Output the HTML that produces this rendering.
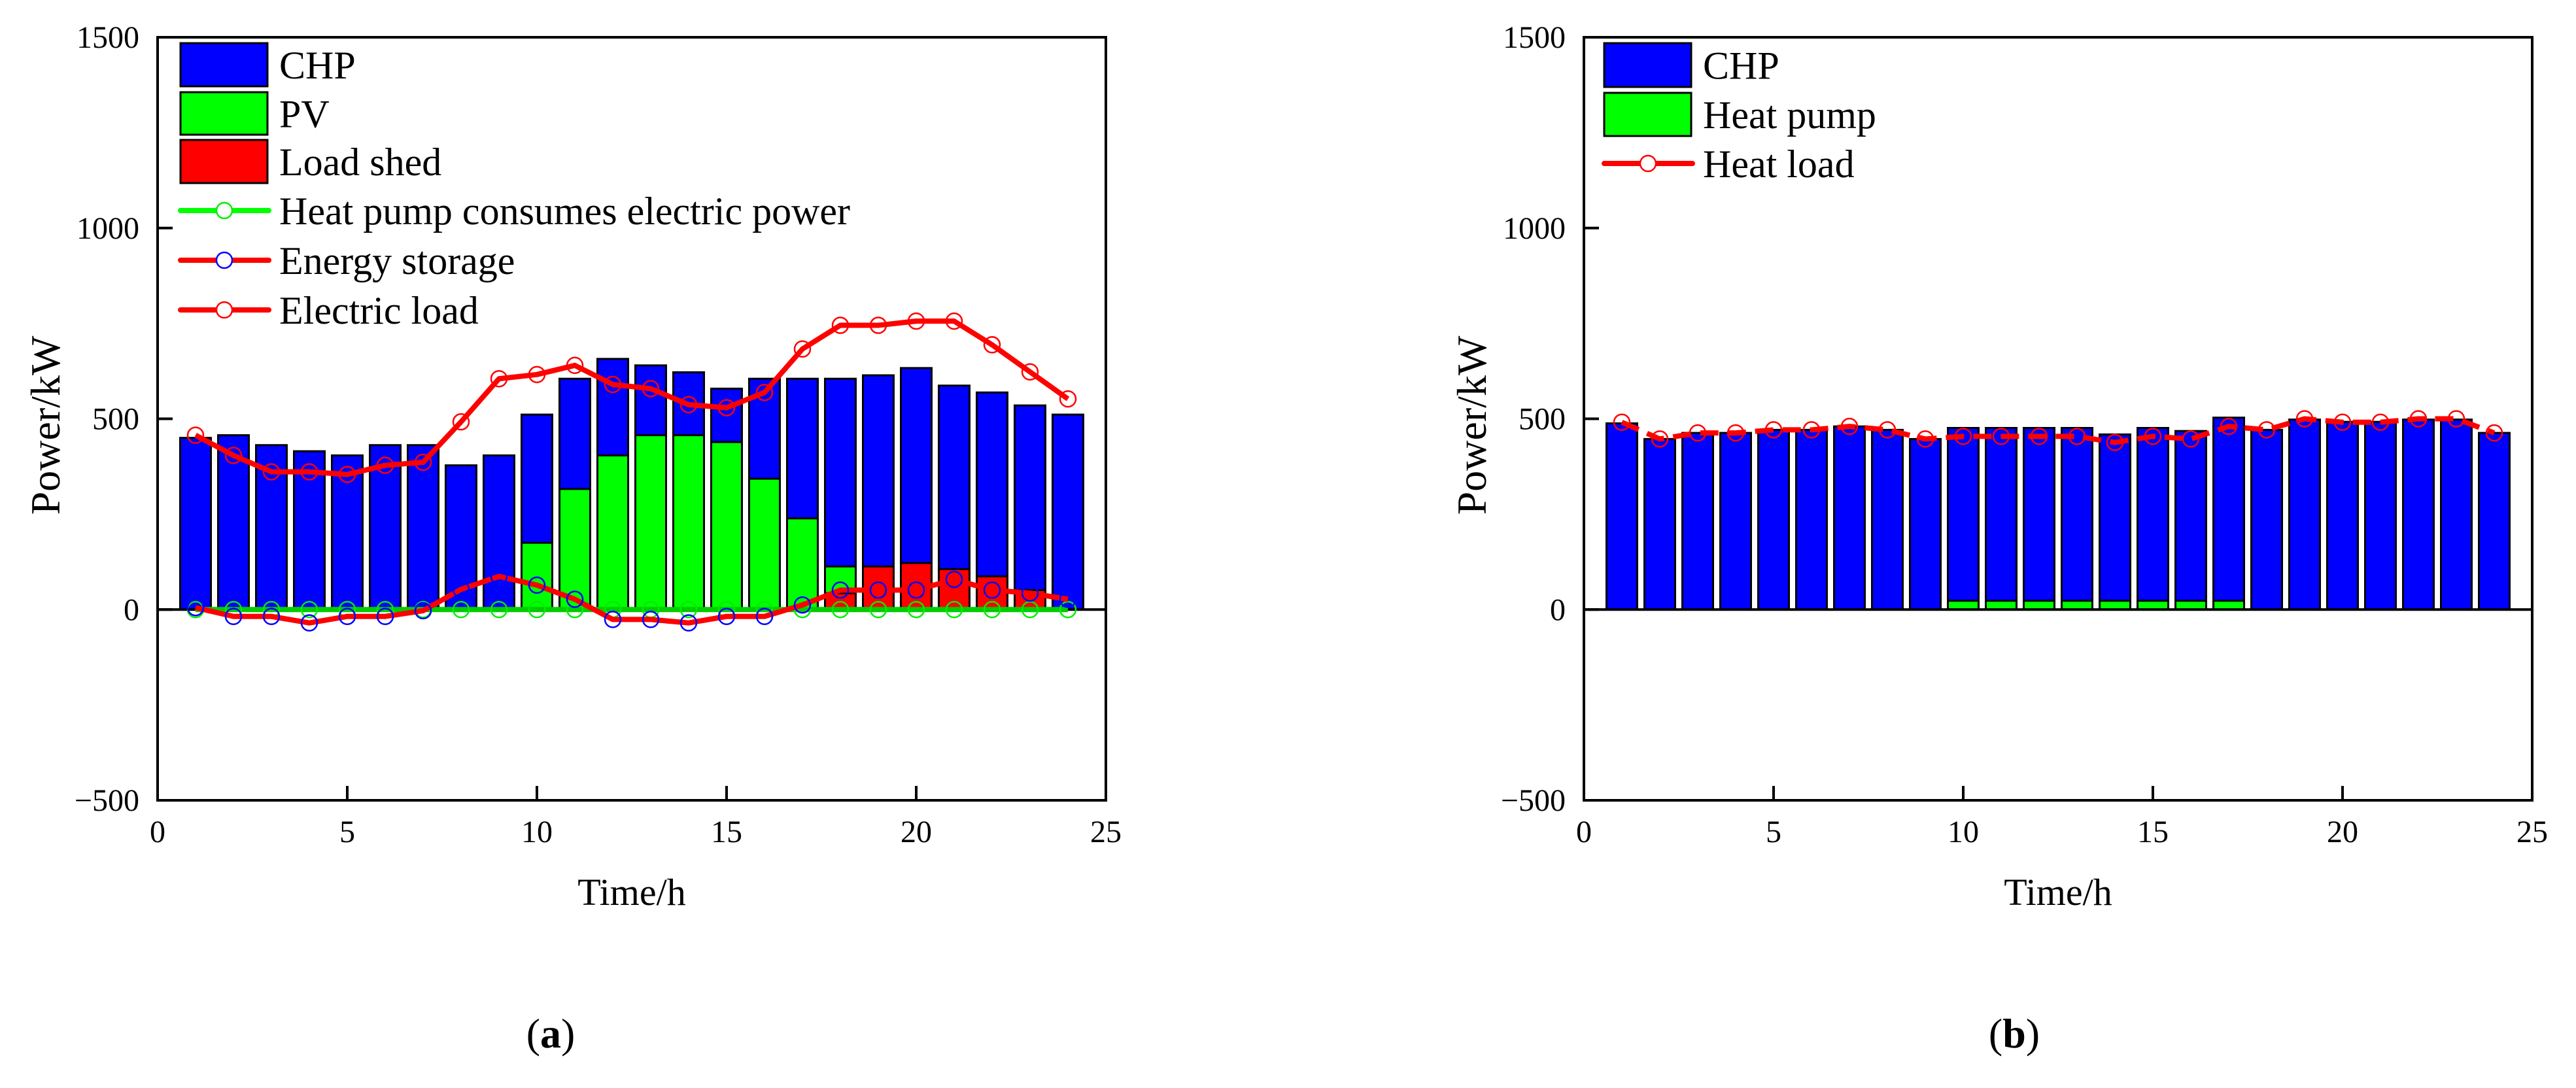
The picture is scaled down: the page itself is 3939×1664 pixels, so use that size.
<!DOCTYPE html>
<html><head><meta charset="utf-8"><style>
body{margin:0;background:#fff}
svg{display:block}
text{font-family:"Liberation Serif","DejaVu Serif",serif;fill:#000}
</style></head><body>
<svg id="svg" width="3939" height="1664" viewBox="0 0 3939 1664" xmlns="http://www.w3.org/2000/svg" font-family="Liberation Serif, DejaVu Serif, serif"></svg>
<script>
const hours=[1,2,3,4,5,6,7,8,9,10,11,12,13,14,15,16,17,18,19,20,21,22,23,24];
const chpTotalA=[450,457,431,415,404,431,431,378,404,511,605,657,640,622,579,605,605,605,614,633,587,569,535,511];
const pvA=[0,0,0,0,0,0,0,0,0,175,316,404,457,457,439,343,239,70,0,0,0,0,0,0];
const shedA=[0,0,0,0,0,0,0,0,0,0,0,0,0,0,0,0,0,43,113,122,106,87,51,0];
const heatPumpElecA=[0,0,0,0,0,0,0,0,0,0,0,0,0,0,0,0,0,0,0,0,0,0,0,0];
const storageA=[5,-18,-18,-35,-18,-18,-3,53,87,64,27,-26,-26,-35,-18,-18,12,51,51,51,79,51,43,27];
const elecLoadA=[457,404,361,361,354,378,386,492,605,616,640,590,579,537,529,569,683,745,745,756,756,694,623,552];
const chpTotalB=[488,447,463,463,471,471,480,471,447,476,476,476,476,459,476,468,503,471,498,492,492,498,498,463];
const heatPumpB=[0,0,0,0,0,0,0,0,0,23,23,23,23,23,23,23,23,0,0,0,0,0,0,0];
const heatLoadB=[491,447,463,463,471,471,480,471,447,454,454,454,454,438,454,447,480,471,500,491,491,500,500,463];
const xTicks=[0,5,10,15,20,25];
const yTicks=[-500,0,500,1000,1500];

const NS="http://www.w3.org/2000/svg";
const svg=document.getElementById('svg');
function el(tag,attrs,parent,txt){const e=document.createElementNS(NS,tag);for(const k in attrs)e.setAttribute(k,attrs[k]);if(txt!==undefined)e.textContent=txt;(parent||svg).appendChild(e);return e;}

function makeChart(L,id){
  const R=L+1450,T=57,B=1224;
  const sx=v=>L+(v/25)*(R-L);
  const sy=v=>T+(1500-v)/2000*(B-T);
  const g=el('g',{});
  
  
  return {L,R,T,B,sx,sy,g};
}

function axes(c,prefix){
  const {L,R,T,B,sx,sy,g}=c;
  yTicks.forEach(v=>{
    const t=el('text',{x:L-28,y:sy(v)+16,'font-size':48,'text-anchor':'end'},g,v<0?'\u2212'+Math.abs(v):String(v));
    
    
    const tk=el('line',{x1:L,x2:L+23,y1:sy(v),y2:sy(v),stroke:'#000','stroke-width':4},g);
    
    
  });
  xTicks.forEach(v=>{
    const t=el('text',{x:sx(v),y:1288,'font-size':48,'text-anchor':'middle'},g,String(v));
    
    
    const tk=el('line',{x1:sx(v),x2:sx(v),y1:B,y2:B-22,stroke:'#000','stroke-width':4},g);
    
    
  });
  const z=el('line',{x1:L,x2:R,y1:sy(0),y2:sy(0),stroke:'#000','stroke-width':4},g);
  
  
  const fr=el('rect',{x:L,y:T,width:R-L,height:B-T,fill:'none',stroke:'#000','stroke-width':4},g);
  
  
  const yt=el('text',{x:0,y:0,'font-size':64,'text-anchor':'middle',transform:`translate(${L-150},${(T+B)/2+10}) rotate(-90)`},g,'Power/kW');
  
  
  const xt=el('text',{x:(L+R)/2,y:1384,'font-size':58,'text-anchor':'middle'},g,'Time/h');
  
  
}

function bar(c,h,v0,v1,fill,name){
  const w=47;
  const r=el('rect',{x:c.sx(h)-w/2,y:c.sy(v1),width:w,height:Math.max(0,c.sy(v0)-c.sy(v1)),fill:fill,stroke:'#000','stroke-width':3},c.g);
  
  
}
function line(c,vals,color,name,dash){
  const pts=hours.map((h,i)=>c.sx(h)+','+c.sy(vals[i])).join(' ');
  const p=el('polyline',{points:pts,fill:'none',stroke:color,'stroke-width':8,'stroke-linejoin':'round'},c.g);
  if(dash)p.setAttribute('stroke-dasharray',dash);
  
  
}
function markers(c,vals,color,name){
  hours.forEach((h,i)=>{
    const m=el('circle',{cx:c.sx(h),cy:c.sy(vals[i]),r:12,fill:'none',stroke:color,'stroke-width':2.5},c.g);
    
    
  });
}
function legendBox(c,x,y,h,fill,label,name){
  const r=el('rect',{x:x,y:y,width:133,height:h,fill:fill,stroke:'#000','stroke-width':3},c.g);
  
  
  const t=el('text',{x:x+151,y:y+h/2+21,'font-size':60},c.g,label);
  
  
}
function legendLine(c,x,y,lc,mc,label,name){
  const l=el('line',{x1:x,x2:x+135,y1:y,y2:y,stroke:lc,'stroke-width':8,'stroke-linecap':'round'},c.g);
  
  
  const m=el('circle',{cx:x+67,cy:y,r:12,fill:'#fff',stroke:mc,'stroke-width':2.5},c.g);
  
  
  const t=el('text',{x:x+151,y:y+21,'font-size':60},c.g,label);
  
  
}

// Chart (a)
const A=makeChart(241,'electric');
hours.forEach((h,i)=>{
  bar(A,h,0,chpTotalA[i],'#0000ff','bar-chp-'+h);
  if(shedA[i]>0)bar(A,h,0,shedA[i],'#ff0000','bar-load-shed-'+h);
  if(pvA[i]>0)bar(A,h,shedA[i],shedA[i]+pvA[i],'#00ff00','bar-pv-'+h);
});
axes(A,'a');
line(A,heatPumpElecA,'#00cc00','heat-pump-electric-line');
markers(A,heatPumpElecA,'#00ee00','heat-pump-electric-point');
line(A,storageA,'#ff0000','energy-storage-line');
markers(A,storageA,'#0000ff','energy-storage-point');
line(A,elecLoadA,'#ff0000','electric-load-line');
markers(A,elecLoadA,'#ff0000','electric-load-point');
legendBox(A,276,66,66,'#0000ff','CHP','legend-chp');
legendBox(A,276,141,65,'#00ff00','PV','legend-pv');
legendBox(A,276,214,66,'#ff0000','Load shed','legend-load-shed');
legendLine(A,276,322,'#00ff00','#00ee00','Heat pump consumes electric power','legend-heat-pump-electric');
legendLine(A,276,398,'#ff0000','#0000ff','Energy storage','legend-energy-storage');
legendLine(A,276,474,'#ff0000','#ff0000','Electric load','legend-electric-load');

// Chart (b)
const Bc=makeChart(2422,'heat');
hours.forEach((h,i)=>{
  bar(Bc,h,0,chpTotalB[i],'#0000ff','bar-chp-heat-'+h);
  if(heatPumpB[i]>0)bar(Bc,h,0,heatPumpB[i],'#00ff00','bar-heat-pump-'+h);
});
axes(Bc,'b');
line(Bc,heatLoadB,'#ff0000','heat-load-line','28 14');
markers(Bc,heatLoadB,'#ff0000','heat-load-point');
legendBox(Bc,2453,66,67,'#0000ff','CHP','legend-chp-heat');
legendBox(Bc,2453,142,66,'#00ff00','Heat pump','legend-heat-pump');
legendLine(Bc,2453,250,'#ff0000','#ff0000','Heat load','legend-heat-load');

// Panel labels
const pa=el('text',{x:842,y:1602,'font-size':64,'text-anchor':'middle'});
pa.innerHTML='(<tspan font-weight="bold">a</tspan>)';


const pb=el('text',{x:3080,y:1602,'font-size':64,'text-anchor':'middle'});
pb.innerHTML='(<tspan font-weight="bold">b</tspan>)';


</script>
</body></html>
